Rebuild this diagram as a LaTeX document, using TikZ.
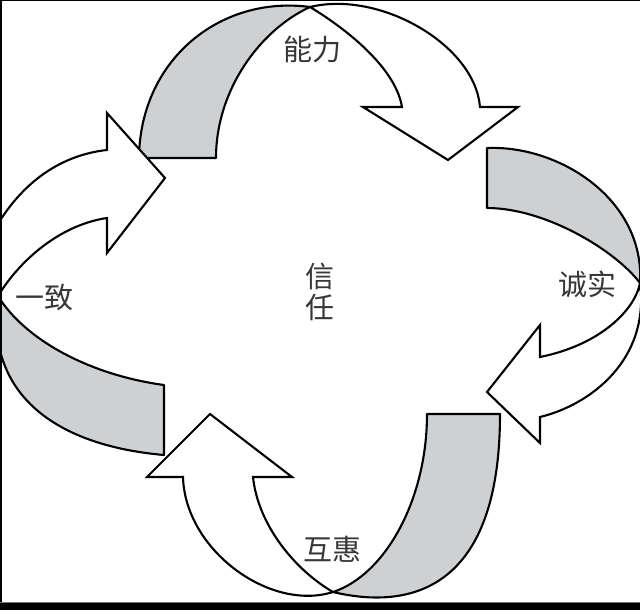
\documentclass[tikz,border=0pt]{standalone}
\usepackage{fontspec}
\newfontfamily\cjk{Noto Sans CJK SC}
\definecolor{bandgray}{RGB}{206,209,211}
\definecolor{txtgray}{RGB}{55,55,55}
\begin{document}
\begin{tikzpicture}[x=1pt,y=-1pt,
  band/.style={draw=black,line width=2.1pt,fill=bandgray,line join=round},
  arrowshape/.style={draw=black,line width=2.1pt,fill=white,line join=miter},
  lbl/.style={font=\cjk\fontsize{29}{29}\selectfont,text=txtgray,inner sep=0pt}]
\path[use as bounding box] (0,0) rectangle (640,610);
\fill[white] (0,0) rectangle (640,610);
\begin{scope}
\clip (0,0) rectangle (640,610);
% top: gray back + white arrow
\path[band] (139,158) .. controls (140,60) and (220,-5) .. (310,7)
   .. controls (260,30) and (216,90) .. (216,158) -- cycle;
\path[arrowshape] (310,7) .. controls (380,-10) and (475,45) .. (480,107)
   -- (518,107) -- (448,160) -- (363,107) -- (402,107)
   .. controls (395,65) and (340,25) .. (310,7) -- cycle;
% right
\path[band] (487,148) .. controls (560,145) and (645,200) .. (640,283)
   .. controls (615,250) and (545,208) .. (487,208) -- cycle;
\path[arrowshape] (640,283) .. controls (650,360) and (590,405) .. (540,417)
   -- (540,443) -- (487,392) -- (540,325) -- (540,357)
   .. controls (600,345) and (635,310) .. (640,283) -- cycle;
% bottom
\path[band] (500,414) .. controls (500,600) and (400,608) .. (333,592)
   .. controls (385,575) and (427,500) .. (427,414) -- cycle;
\path[arrowshape] (333,592) .. controls (270,612) and (185,550) .. (183,477)
   -- (147,477) -- (210,414) -- (292,477) -- (253,477)
   .. controls (258,525) and (295,570) .. (333,592) -- cycle;
% left
\path[band] (164,385) .. controls (90,375) and (25,340) .. (-2,296)
   .. controls (-15,390) and (50,445) .. (164,455) -- cycle;
\path[arrowshape] (-2,296) .. controls (20,260) and (60,225) .. (107,218)
   -- (107,253) -- (165,178) -- (107,113) -- (107,150)
   .. controls (60,155) and (10,185) .. (-20,260) -- cycle;
\end{scope}
% labels
\node[lbl] (nengli) at (312,50) {能力};
\node[lbl] (chengshi) at (587,284) {诚实};
\node[lbl] (huhui) at (332,549) {互惠};
\node[lbl] (yizhi) at (45,297) {一致};
\node[lbl] (xin) at (320,277) {信};
\node[lbl] (ren) at (320,307) {任};
% frame edges
\fill[black] (0,0) rectangle (640,1.5);
\fill[black] (0,0) rectangle (2,610);
\fill[black!55] (0,601.5) rectangle (640,603);
\fill[black] (0,603) rectangle (640,610);
\end{tikzpicture}
\end{document}
